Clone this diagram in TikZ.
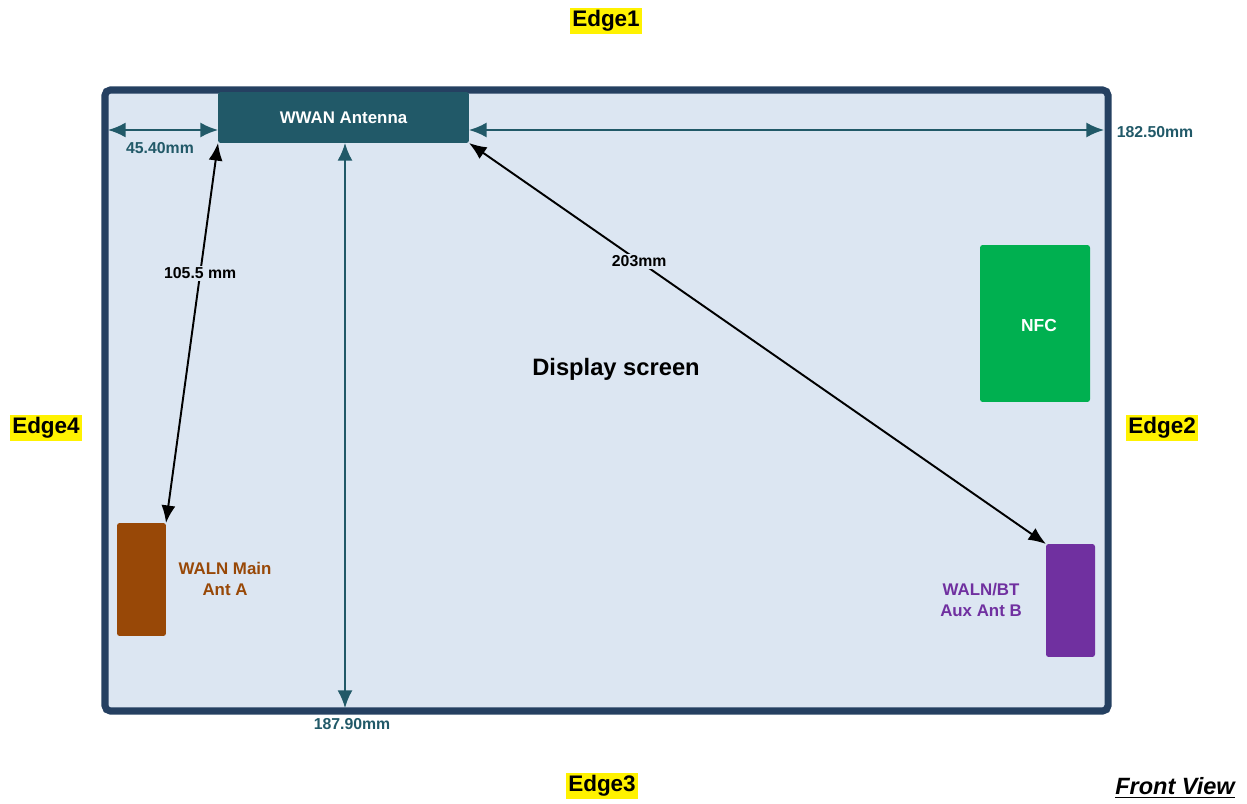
\documentclass[tikz,border=0pt]{standalone}
\usepackage{fontspec}
\setmainfont{Liberation Sans}
\usetikzlibrary{arrows.meta}
\definecolor{screenblue}{HTML}{DCE6F2}
\definecolor{framenavy}{HTML}{254061}
\definecolor{wwanteal}{HTML}{215968}
\definecolor{antbrown}{HTML}{984807}
\definecolor{antpurple}{HTML}{7030A0}
\definecolor{nfcgreen}{HTML}{00B050}
\def\fsize#1#2{\fontsize{#1}{#2}\selectfont}

\begin{document}
\begin{tikzpicture}[x=0.02cm, y=-0.02cm,
	edgelabel/.style={fill=yellow, inner sep=1.5pt, font=\bfseries\fsize{12.8}{15}},
	antbox/.style={rounded corners=1.5pt, inner sep=0pt, outer sep=0pt, minimum width=0.98cm, minimum height=2.26cm},
	dimline/.style={wwanteal, line width=1.1pt, {Latex[length=10pt,width=8.5pt]}-{Latex[length=10pt,width=8.5pt]}},
	distline/.style={black, line width=1.1pt, {Latex[length=10pt,width=8pt]}-{Latex[length=10pt,width=8pt]}},
	dimlabel/.style={text=wwanteal, font=\bfseries\fsize{9}{11}},
	distlabel/.style={fill=screenblue, inner sep=1pt, font=\bfseries\fsize{9}{11}}]
			%%%%% START %%%%%
			\useasboundingbox (0, 0) rectangle (1247, 804);
			
			% screen
			\draw[line width=4pt, draw=framenavy, fill=screenblue, rounded corners=3pt] (105, 90) rectangle (1108, 711);
			\node[font=\bfseries\fsize{13.5}{16}] (screen) at (616, 369) {Display screen};
			
			% antennas
			\node[fill=wwanteal, text=white, rounded corners=1.5pt, inner sep=0pt, outer sep=0pt, minimum width=5.02cm, minimum height=1.02cm, font=\bfseries\fsize{9.6}{11.5}] (wwan) at (343.5, 117.5) {WWAN Antenna};
			\node[antbox, fill=antbrown] (mainant) at (141.5, 579.5) {};
			\node[antbox, fill=antpurple] (auxant) at (1070.5, 600.5) {};
			\node[fill=nfcgreen, text=white, rounded corners=1.5pt, inner sep=0pt, outer sep=0pt, minimum width=2.2cm, minimum height=3.14cm] (nfc) at (1035, 323.5) {};
			\node[text=white, font=\bfseries\fsize{9.9}{12}] (nfctext) at (1039, 326) {NFC};
			
			\node[text=antbrown, align=center, font=\bfseries\fsize{9.6}{11.5}] (maintext) at (225, 579) {WALN Main\\Ant A};
			\node[text=antpurple, align=center, font=\bfseries\fsize{9.6}{11.5}] (auxtext) at (981, 600) {WALN/BT\\Aux Ant B};
			
			% dimensions
			\coordinate (leftin) at (108, 130);
			\coordinate (rightin) at (1104, 130);
			\coordinate (botin) at (345, 708);
			
			\draw[dimline] (leftin) -- (leftin -| wwan.west);
			\draw[dimline] (wwan.east |- rightin) -- (rightin);
			\draw[dimline] (wwan.south -| botin) -- (botin);
			
			\node[dimlabel] (leftdim) at (160, 148) {45.40mm};
			\node[dimlabel] (rightdim) at (1155, 132) {182.50mm};
			\node[dimlabel] (botdim) at (352, 724) {187.90mm};
			
			\draw[distline] (wwan.south west) -- node[distlabel, pos=0.343] (maindist) {105.5 mm} (mainant.north east);
			\draw[distline] (wwan.south east) -- node[distlabel, pos=0.295] (auxdist) {203mm} (auxant.north west);
			
			% edges
			\node[edgelabel] (edge1) at (606, 21) {Edge1};
			\node[edgelabel] (edge2) at (1162, 428) {Edge2};
			\node[edgelabel] (edge3) at (602, 786) {Edge3};
			\node[edgelabel] (edge4) at (46, 428) {Edge4};
			
			\node[font=\bfseries\itshape\fsize{13.4}{16}] (view) at (1175, 788) {\underline{Front View}};
			%%%%% END %%%%%
\end{tikzpicture}
\end{document}
